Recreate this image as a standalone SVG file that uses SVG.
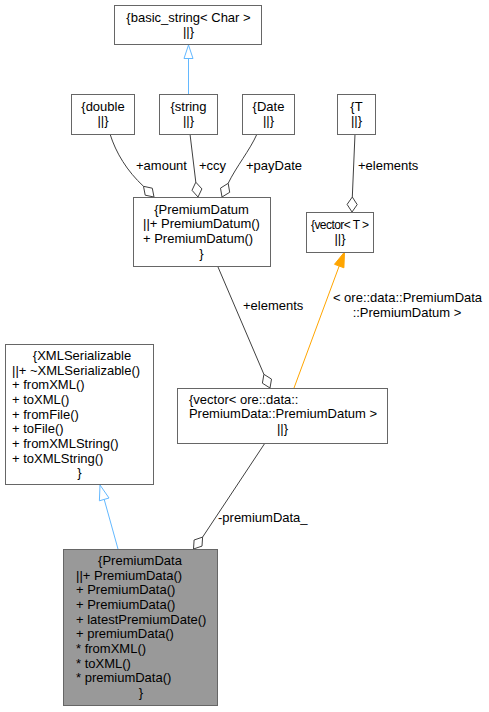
<svg xmlns="http://www.w3.org/2000/svg" width="489" height="712" viewBox="0 0 489 712">
<style>
text{font-family:"Liberation Sans",Arial,sans-serif;font-size:13px;fill:#000}
.box{fill:#fff;stroke:#666;stroke-width:1}
.main{fill:#999;stroke:#666;stroke-width:1}
.c{text-anchor:middle}
.e{fill:none;stroke:#404040;stroke-width:1}
.d{fill:#fff;stroke:#404040;stroke-width:1}
.inh{fill:none;stroke:#63B8FF;stroke-width:1}
.tri{fill:#fff;stroke:#63B8FF;stroke-width:1}
.o{fill:none;stroke:#FFA500;stroke-width:1}
.oa{fill:#FFA500;stroke:#FFA500;stroke-width:1}
</style>
<rect width="489" height="712" fill="#fff"/>
<g id="edges">
<path class="inh" d="M188.5,94 L188.5,58.5"/>
<polygon class="tri" points="188.5,45 184,58.5 193,58.5"/>
<path class="e" d="M110,134 C116,153 127,171 143.5,186.3"/>
<polygon class="d" points="154,197 152.3,188.2 143.5,186.3 145.2,195.2"/>
<text x="136" y="169.5">+amount</text>
<path class="e" d="M190,134 L195.8,182.2"/>
<polygon class="d" points="198,197 201.9,188.9 195.8,182.2 192,190.3"/>
<text x="199" y="169.5">+ccy</text>
<path class="e" d="M257,134 C250,150 236,167 228.2,183.3"/>
<polygon class="d" points="222,197 229.7,192.3 228.2,183.3 220.5,188.1"/>
<text x="246" y="169.5">+payDate</text>
<path class="e" d="M355,134 L352.3,197"/>
<polygon class="d" points="352,212 357.2,204.6 352.3,197 347.1,204.4"/>
<text x="358" y="169.5">+elements</text>
<path class="e" d="M218,267 L263.9,374.3"/>
<polygon class="d" points="270,388 271.5,379.1 263.9,374.3 262.4,383.2"/>
<text x="243" y="309.5">+elements</text>
<path class="o" d="M294,388 L339.2,266"/>
<polygon class="oa" points="344.5,252 343.9,267.8 334.5,264.3"/>
<text class="c" x="407.5" y="301.5">&lt; ore::data::PremiumData</text>
<text class="c" x="407" y="316.5">::PremiumDatum &gt;</text>
<path class="inh" d="M118,549 L104.2,499.4"/>
<polygon class="tri" points="100,485 109,498 99.4,500.8"/>
<path class="e" d="M265,443 L202.6,537.1"/>
<polygon class="d" points="193.5,549 202,546.1 202.6,537.1 194.1,540"/>
<text x="218" y="521.5">-premiumData_</text>
</g>
<g id="basic_string">
<rect class="box" x="114.5" y="5.5" width="147" height="39"/>
<text class="c" x="188.5" y="21.5">{basic_string&lt; Char &gt;</text>
<text class="c" x="188.5" y="36">||}</text>
</g>
<g id="double">
<rect class="box" x="71.5" y="94.5" width="63" height="40"/>
<text class="c" x="103" y="110.5">{double</text>
<text class="c" x="103" y="125.2">||}</text>
</g>
<g id="string">
<rect class="box" x="159.5" y="94.5" width="58" height="40"/>
<text class="c" x="188.5" y="110.5">{string</text>
<text class="c" x="188.5" y="125.2">||}</text>
</g>
<g id="Date">
<rect class="box" x="242.5" y="94.5" width="52" height="40"/>
<text class="c" x="268.5" y="110.5">{Date</text>
<text class="c" x="268.5" y="125.2">||}</text>
</g>
<g id="T">
<rect class="box" x="337.5" y="94.5" width="38" height="40"/>
<text class="c" x="356.5" y="110.5">{T</text>
<text class="c" x="356.5" y="125.2">||}</text>
</g>
<g id="PremiumDatum">
<rect class="box" x="133.5" y="197.5" width="137" height="69"/>
<text class="c" x="201.5" y="213.5">{PremiumDatum</text>
<text x="143" y="228.2">||+ PremiumDatum()</text>
<text x="143" y="242.8">+ PremiumDatum()</text>
<text class="c" x="201.5" y="257.5">}</text>
</g>
<g id="vectorT">
<rect class="box" x="306.5" y="212.5" width="67" height="40"/>
<text class="c" x="340" y="228.5" style="font-size:12px" textLength="58" lengthAdjust="spacing">{vector&lt; T &gt;</text>
<text class="c" x="340" y="243.2">||}</text>
</g>
<g id="vectorPremiumDatum">
<rect class="box" x="177.5" y="388.5" width="210" height="55"/>
<text x="189" y="403.5">{vector&lt; ore::data::</text>
<text class="c" x="283" y="418.2">PremiumData::PremiumDatum &gt;</text>
<text class="c" x="282.5" y="432.8">||}</text>
</g>
<g id="XMLSerializable">
<rect class="box" x="5.5" y="344.5" width="148" height="140"/>
<text class="c" x="82" y="360">{XMLSerializable</text>
<text x="12" y="374.7">||+ ~XMLSerializable()</text>
<text x="12" y="389.3">+ fromXML()</text>
<text x="12" y="404">+ toXML()</text>
<text x="12" y="418.7">+ fromFile()</text>
<text x="12" y="433.3">+ toFile()</text>
<text x="12" y="448">+ fromXMLString()</text>
<text x="12" y="462.7">+ toXMLString()</text>
<text class="c" x="79.5" y="477.3">}</text>
</g>
<g id="PremiumData">
<rect class="main" x="63.5" y="549.5" width="154" height="156"/>
<text class="c" x="140" y="565">{PremiumData</text>
<text x="76" y="579.7">||+ PremiumData()</text>
<text x="76" y="594.3">+ PremiumData()</text>
<text x="76" y="609">+ PremiumData()</text>
<text x="76" y="623.7">+ latestPremiumDate()</text>
<text x="76" y="638.3">+ premiumData()</text>
<text x="76" y="653">* fromXML()</text>
<text x="76" y="667.7">* toXML()</text>
<text x="76" y="682.3">* premiumData()</text>
<text class="c" x="141" y="697">}</text>
</g>
</svg>
